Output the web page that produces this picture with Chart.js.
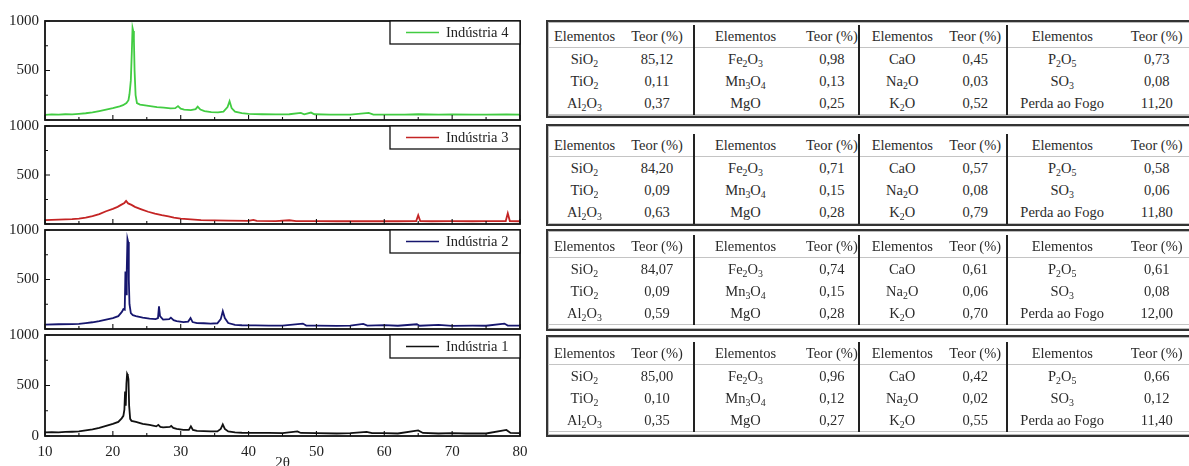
<!DOCTYPE html>
<html><head><meta charset="utf-8">
<script src="https://cdn.jsdelivr.net/npm/chart.js@4.4.1/dist/chart.umd.min.js"></script>
<style>
html,body{margin:0;padding:0;background:#fff;}
body{width:1189px;height:466px;overflow:hidden;position:relative;font-family:"Liberation Serif","DejaVu Serif",serif;}
canvas.cv{position:absolute;left:0;}
.frame{position:absolute;left:546px;width:680px;border:2px solid #333;box-sizing:border-box;box-shadow:inset 0 0 0 1px #bbb;}
.frame table{border-collapse:collapse;table-layout:fixed;font-size:14.5px;color:#2b2b2b;}
.frame td{text-align:center;padding:0;height:22px;line-height:22px;white-space:nowrap;}
.frame tr.hd td{border-bottom:1px solid #c4c4c4;}
.frame tr.last td{border-bottom:1px solid #c4c4c4;}
.frame td.sep{border-left:2px solid #222;}
.frame td.c4{padding-left:10px;}
sub{font-size:0.68em;vertical-align:baseline;position:relative;top:0.28em;line-height:0;}
</style>
</head><body>
<canvas id="p4" class="cv"></canvas>
<canvas id="p3" class="cv"></canvas>
<canvas id="p2" class="cv"></canvas>
<canvas id="p1" class="cv"></canvas>
<div id="tables"></div>
<script>
// ---------- XRD data (2θ vs intensity) ----------
const ind4X = [10,11,12,13,14,15,16,17,18,19,20,21,21.5,22,22.3,22.45,22.65,22.8,22.9,23.0,23.1,23.2,23.35,23.55,24,24.5,25.5,26.5,27.5,28.5,29.2,29.6,30,30.5,31.5,32.2,32.5,32.9,33.5,34.5,35.5,36.3,36.9,37.2,37.5,38,39,40,42,44,46,47.7,48.2,49.2,49.7,52,55,57.7,58.4,60,63,65,68,70,73,75,78,80];
const ind4Y = [52,56,54,58,57,62,68,76,90,105,120,138,150,172,200,260,400,700,930,900,820,500,250,170,155,150,140,130,125,118,120,140,115,105,100,110,135,105,90,80,78,85,130,190,120,85,70,62,58,57,58,72,58,75,58,55,55,72,55,55,55,58,55,57,55,55,57,55];

const ind3X = [10,11,12,13,14,15,16,17,18,19,20,20.7,21.2,21.7,21.95,22.25,22.75,23.25,24.2,25.2,26.2,27.2,28.2,29,30,31,32,33,35,37,40,40.7,41.2,44,46,47,50,53,55,58,60,62,64.7,65,65.3,67,70,73,75,77.9,78.2,78.5,80];
const ind3Y = [40,42,45,47,50,55,65,80,100,130,155,175,195,215,235,210,195,175,150,125,105,90,78,65,55,50,45,40,38,35,32,42,32,30,38,30,30,28,30,28,30,28,30,90,30,28,30,28,30,30,110,30,28];

const ind2X = [10,12,14,15,16,17,18,19,20,20.8,21.3,21.55,21.75,21.85,21.95,22.05,22.15,22.25,22.35,22.45,22.65,22.95,23.4,24.4,25.4,26.3,26.65,26.8,26.95,27.4,28.3,28.55,28.95,29.4,30.4,31.1,31.45,31.75,32.4,33.4,34.4,35.4,35.9,36.2,36.5,37,38,39,41,43,45,48,48.5,50,53,55,56.9,57.5,60,62,64.8,65.2,68,70,73,75,77.7,78.2,80];
const ind2Y = [45,48,50,52,60,68,80,95,110,130,170,200,195,580,350,600,910,880,500,250,160,140,130,115,105,100,110,230,130,95,100,115,90,80,70,75,110,70,60,58,55,58,100,180,110,60,42,38,36,34,35,55,35,34,32,35,52,35,40,33,48,33,42,32,34,33,55,35,34];

const ind1X = [10,11,12,13,14,15,16,17,18,19,20,20.8,21.3,21.55,21.7,21.8,21.9,22.0,22.1,22.2,22.3,22.4,22.55,22.75,23.4,23.9,24.4,25.4,26.4,26.7,27,27.4,28.4,28.6,28.9,29.4,30.4,31.2,31.5,31.8,32.4,33.4,34.4,35.4,35.9,36.2,36.5,37,38,39,41,43,45,47.2,47.7,50,53,55,57.4,58.2,60,62,65,65.7,68,70,72,75,78,78.6,80];
const ind1Y = [35,38,36,40,42,45,55,65,80,100,120,140,175,200,260,440,300,520,615,600,560,300,170,150,140,130,120,110,95,110,90,85,90,100,80,70,60,60,95,60,50,48,45,45,70,115,70,45,35,32,30,30,28,45,30,28,25,28,40,28,28,25,55,30,25,28,25,25,60,30,28];

const seriesLabels = ['Indústria 4','Indústria 3','Indústria 2','Indústria 1'];
const seriesColors = ['#42cc42','#c42424','#16166e','#111111'];
const yTickValues = [0, 500, 1000];
const xTickLabels = ['10','20','30','40','50','60','70','80'];

// ---------- Chemical composition tables ----------
const elementos = [['SiO2','TiO2','Al2O3'],['Fe2O3','Mn3O4','MgO'],['CaO','Na2O','K2O'],['P2O5','SO3','Perda ao Fogo']];
const teorInd4 = [['85,12','0,11','0,37'],['0,98','0,13','0,25'],['0,45','0,03','0,52'],['0,73','0,08','11,20']];
const teorInd3 = [['84,20','0,09','0,63'],['0,71','0,15','0,28'],['0,57','0,08','0,79'],['0,58','0,06','11,80']];
const teorInd2 = [['84,07','0,09','0,59'],['0,74','0,15','0,28'],['0,61','0,06','0,70'],['0,61','0,08','12,00']];
const teorInd1 = [['85,00','0,10','0,35'],['0,96','0,12','0,27'],['0,42','0,02','0,55'],['0,66','0,12','11,40']];
const headerElem = 'Elementos';
const headerTeor = 'Teor (%)';

// ---------- layout ----------
const FONT = '"Liberation Serif", "DejaVu Serif", serif';
const panels = [
  {id:'p4', top:18,  bottom:123, X:ind4X, Y:ind4Y, showZero:false, showX:false},
  {id:'p3', top:123, bottom:227, X:ind3X, Y:ind3Y, showZero:false, showX:false},
  {id:'p2', top:227, bottom:332, X:ind2X, Y:ind2Y, showZero:false, showX:false},
  {id:'p1', top:332, bottom:436, X:ind1X, Y:ind1Y, showZero:true,  showX:true}
];

const frameTicks = {
  id:'frameTicks',
  afterDatasetsDraw(chart){
    const {ctx, chartArea:{left,right,top,bottom}, scales:{x,y}} = chart;
    ctx.save();
    ctx.strokeStyle = '#111';
    ctx.lineWidth = 1.1;
    ctx.beginPath();
    for (let i=0;i<xTickLabels.length;i++){
      const v = Number(xTickLabels[i]);
      const px = x.getPixelForValue(v);
      ctx.moveTo(px,bottom); ctx.lineTo(px,bottom-5);
      if (i < xTickLabels.length-1){
        const pm = x.getPixelForValue(v+5);
        ctx.moveTo(pm,bottom); ctx.lineTo(pm,bottom-3);
      }
    }
    for (let i=0;i<yTickValues.length;i++){
      const v = yTickValues[i];
      const py = y.getPixelForValue(v);
      ctx.moveTo(left,py); ctx.lineTo(left+5,py);
      if (i < yTickValues.length-1){
        const pm = y.getPixelForValue((v+yTickValues[i+1])/2);
        ctx.moveTo(left,pm); ctx.lineTo(left+3,pm);
      }
    }
    ctx.stroke();
    ctx.lineWidth = 1.8;
    ctx.strokeRect(left,top,right-left,bottom-top);
    // legend box
    const ds = chart.data.datasets[0];
    const w = 130, h = 23;
    const bx = right - w, by = top;
    ctx.fillStyle = '#fff';
    ctx.fillRect(bx,by,w,h);
    ctx.lineWidth = 1.3;
    ctx.strokeRect(bx,by,w,h);
    ctx.strokeStyle = ds.borderColor;
    ctx.lineWidth = 1.6;
    ctx.beginPath(); ctx.moveTo(bx+16,by+h/2); ctx.lineTo(bx+49,by+h/2); ctx.stroke();
    ctx.fillStyle = '#222';
    ctx.font = '14.5px ' + FONT;
    ctx.textBaseline = 'middle';
    ctx.textAlign = 'left';
    ctx.fillText(ds.label, bx+56, by+h/2+1);
    ctx.restore();
  }
};

panels.forEach((p,i) => {
  const cv = document.getElementById(p.id);
  const padTop = 12;
  const padBottom = p.showX ? 0 : 12;
  const xH = p.showX ? 40 : 0;
  const H = padTop + (p.bottom - p.top) + padBottom + xH;
  cv.width = 540; cv.height = H;
  cv.style.top = (p.top - padTop) + 'px';
  const data = p.X.map((xv,k) => ({x:xv, y:p.Y[k]}));
  new Chart(cv, {
    type:'line',
    data:{datasets:[{label:seriesLabels[i], data, borderColor:seriesColors[i], borderWidth:1.8, pointRadius:0, tension:0, fill:false}]},
    options:{
      responsive:false, animation:false, devicePixelRatio:1,
      layout:{padding:{top:padTop,bottom:padBottom,left:0,right:20}},
      plugins:{legend:{display:false}, tooltip:{enabled:false}},
      scales:{
        x:{type:'linear', min:10, max:80, display:p.showX,
           grid:{display:false, drawTicks:false}, border:{display:false},
           ticks:{stepSize:10, padding:7, color:'#222', font:{family:FONT,size:15},
                  callback:(v)=> xTickLabels.includes(String(v)) ? String(v) : ''},
           title:{display:p.showX, text:'2θ', color:'#222', font:{family:FONT,size:15}, padding:{top:0,bottom:4}},
           afterFit:(s)=>{ s.height = xH; }},
        y:{type:'linear', min:0, max:1000,
           grid:{display:false, drawTicks:false}, border:{display:false},
           ticks:{stepSize:500, padding:6, color:'#222', font:{family:FONT,size:15},
                  callback:(v)=> (v===0 && !p.showZero) ? '' : (yTickValues.includes(v) ? String(v) : '')},
           afterFit:(s)=>{ s.width = 45; }}
      }
    },
    plugins:[frameTicks]
  });
});

// ---------- tables ----------
const tableSets = [teorInd4, teorInd3, teorInd2, teorInd1];
const tableBoxes = [{top:20,h:98,pad:3},{top:124,h:102,pad:8},{top:229,h:102,pad:4},{top:335,h:102,pad:5}];
const colW = [73,73,102,61,86,62,110,80];
const chem = s => s.replace(/(\d)/g,'<sub>$1</sub>');
const cls = j => (j===2||j===4||j===6 ? 'sep' : '') + (j===3 ? ' c4' : '');
let html = '';
tableSets.forEach((teor,t) => {
  const b = tableBoxes[t];
  let s = `<div class="frame" style="top:${b.top}px;height:${b.h}px;padding-top:${b.pad}px"><table><colgroup>`;
  colW.forEach(w => s += `<col style="width:${w}px">`);
  s += '</colgroup><tr class="hd">';
  for (let g=0; g<4; g++){
    s += `<td class="${cls(2*g)}">${headerElem}</td><td class="${cls(2*g+1)}">${headerTeor}</td>`;
  }
  s += '</tr>';
  for (let r=0; r<3; r++){
    s += `<tr class="${r===2?'last':''}">`;
    for (let g=0; g<4; g++){
      s += `<td class="${cls(2*g)}">${chem(elementos[g][r])}</td><td class="${cls(2*g+1)}">${teor[g][r]}</td>`;
    }
    s += '</tr>';
  }
  s += '</table></div>';
  html += s;
});
document.getElementById('tables').innerHTML = html;
</script>
</body></html>
